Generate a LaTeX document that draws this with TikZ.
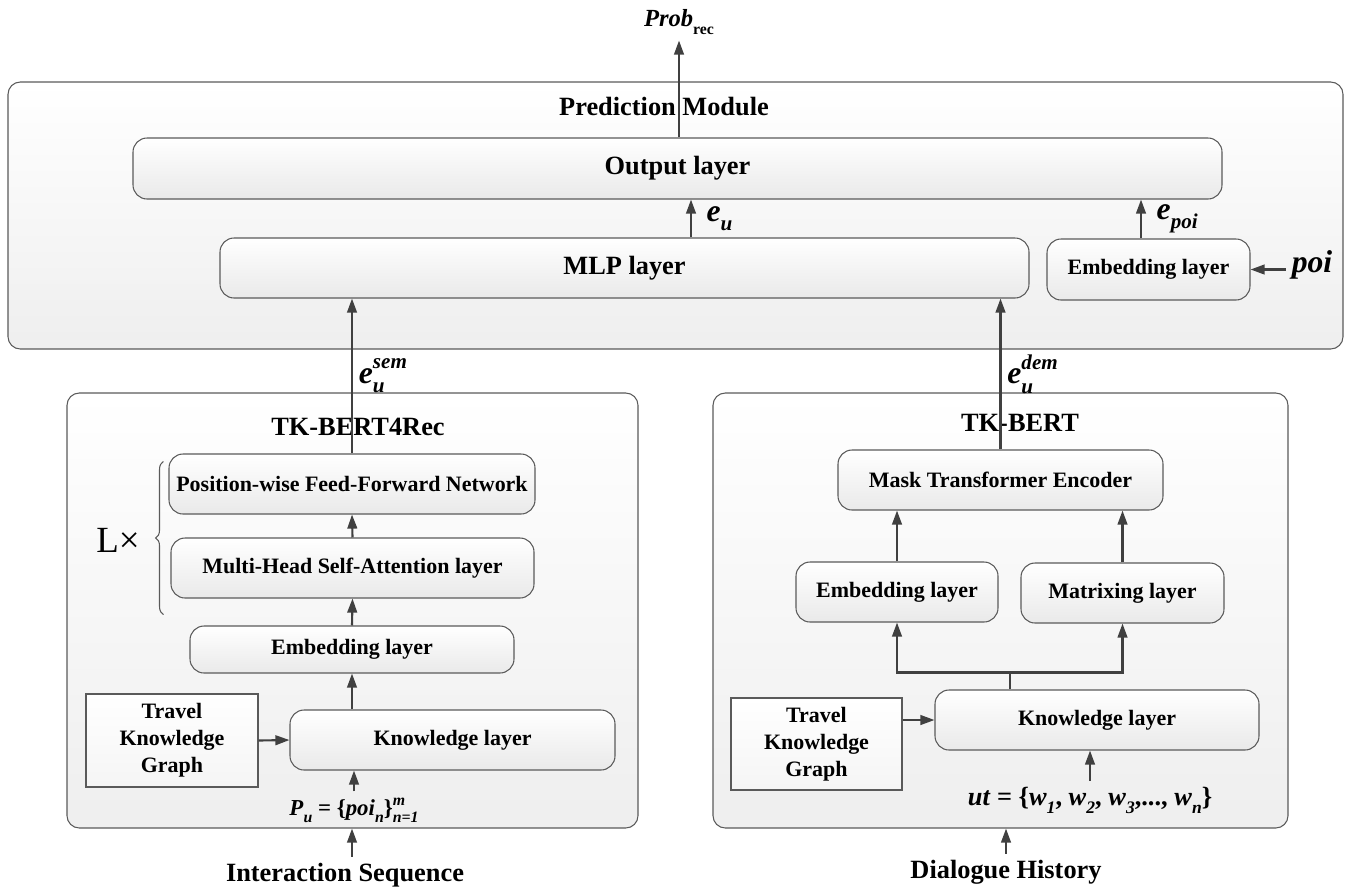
\documentclass[tikz,border=0pt]{standalone}
\usepackage{amsmath}
\usepackage{fontspec}
\setmainfont{Liberation Serif}
\usetikzlibrary{arrows.meta,decorations.pathreplacing}
\definecolor{boxline}{HTML}{5A5A5A}
\definecolor{arrowgray}{HTML}{404040}
\newcommand{\bi}[1]{\textbf{\textit{#1}}}
% base with raised and lowered index, #1 = index size in pt
\newcommand{\idx}[4]{#2\rlap{\raisebox{0.45em}{\fontsize{#1}{#1}\selectfont#3}}\raisebox{-0.3em}{\fontsize{#1}{#1}\selectfont#4}}

\begin{document}
\begin{tikzpicture}[
    module/.style={draw=boxline, rounded corners=7pt, top color=white, bottom color=gray!13, line width=0.6pt},
    layer/.style={draw=boxline, rounded corners=8pt, top color=white, bottom color=gray!17, line width=0.6pt, inner sep=0pt, font=\fontsize{12.5}{15}\selectfont\bfseries},
    kgbox/.style={draw=boxline, top color=white, bottom color=gray!8, line width=0.6pt, align=center, font=\fontsize{12.5}{15.3}\selectfont\bfseries},
    bigtext/.style={font=\fontsize{15}{18}\selectfont\bfseries},
    vectext/.style={font=\fontsize{18}{22}\selectfont},
    link/.style={draw=arrowgray, line width=1.2pt},
    arr/.style={link, -{Triangle[length=8pt,width=5.5pt]}},
    ]
    \useasboundingbox (0,0) rectangle (26.94,-17.80);

    % prediction module
    \node (pred) [module, minimum width=26.70cm, minimum height=5.34cm] at (13.51,-4.31) {};
    \node (predtitle) [bigtext] at (13.28,-2.14) {Prediction Module};
    \node (output) [layer, bigtext, minimum width=21.78cm, minimum height=1.22cm] at (13.55,-3.37) {Output layer};
    \node (mlp) [layer, bigtext, minimum width=16.18cm, minimum height=1.20cm] at (12.49,-5.36) {MLP layer};
    \node (embpoi) [layer, minimum width=4.06cm, minimum height=1.22cm] at (22.97,-5.39) {Embedding layer};
    \node (poi) [vectext] at (26.24,-5.30) {\bi{poi}};
    \node (prob) [font=\fontsize{14}{17}\selectfont] at (13.58,-0.44) {\idx{9}{\bi{Prob}}{}{\textbf{rec}}};

    % TK-BERT4Rec
    \node (rec) [module, minimum width=11.42cm, minimum height=8.70cm] at (7.05,-12.21) {};
    \node (rectitle) [bigtext] at (7.16,-8.54) {TK-BERT4Rec};
    \node (ffn) [layer, minimum width=7.32cm, minimum height=1.20cm] at (7.04,-9.68) {Position-wise Feed-Forward Network};
    \node (mhsa) [layer, minimum width=7.26cm, minimum height=1.20cm] at (7.05,-11.36) {Multi-Head Self-Attention layer};
    \node (embl) [layer, minimum width=6.48cm, minimum height=0.94cm] at (7.04,-12.99) {Embedding layer};
    \node (knowl) [layer, minimum width=6.50cm, minimum height=1.20cm] at (9.05,-14.80) {Knowledge layer};
    \node (kgl) [kgbox, minimum width=3.44cm, minimum height=1.86cm] at (3.44,-14.81) {Travel\\Knowledge\\Graph};
    \node (pu) [font=\fontsize{13}{16}\selectfont\bfseries] at (7.08,-16.20) {\idx{9}{\bi{P}}{}{\bi{u}} = \{\idx{9}{\bi{poi}}{}{\bi{n}}\}\idx{9}{}{\bi{m}}{\bi{n=1}}};
    \node (iseq) [bigtext] at (6.90,-17.50) {Interaction Sequence};
    \node (lx) [font=\fontsize{21}{25}\selectfont] at (2.36,-10.80) {L×};

    % TK-BERT
    \node (tkb) [module, minimum width=11.50cm, minimum height=8.70cm] at (20.01,-12.21) {};
    \node (tkbtitle) [bigtext] at (20.40,-8.46) {TK-BERT};
    \node (mte) [layer, minimum width=6.50cm, minimum height=1.20cm] at (20.01,-9.60) {Mask Transformer Encoder};
    \node (embr) [layer, minimum width=4.04cm, minimum height=1.20cm] at (17.94,-11.84) {Embedding layer};
    \node (matx) [layer, minimum width=4.06cm, minimum height=1.20cm] at (22.45,-11.86) {Matrixing layer};
    \node (knowr) [layer, minimum width=6.48cm, minimum height=1.20cm] at (21.94,-14.40) {Knowledge layer};
    \node (kgr) [kgbox, minimum width=3.42cm, minimum height=1.84cm] at (16.33,-14.88) {Travel\\Knowledge\\Graph};
    \node (ut) [font=\fontsize{15}{18}\selectfont\bfseries] at (21.80,-16.00) {\bi{ut} = \{\idx{10}{\bi{w}}{}{\bi{1}}, \idx{10}{\bi{w}}{}{\bi{2}}, \idx{10}{\bi{w}}{}{\bi{3}},..., \idx{10}{\bi{w}}{}{\bi{n}}\}};
    \node (dhist) [bigtext] at (20.12,-17.44) {Dialogue History};

    % top part
    \draw[arr] (output.north -| prob.south) -- (prob.south);
    \draw[arr] ([xshift=1.33cm]mlp.north) -- ([xshift=1.33cm]mlp.north |- output.south)
        node[midway, right=5pt, vectext] {\idx{12}{\bi{e}}{}{\bi{u}}};
    \draw[arr] ([xshift=-0.15cm]embpoi.north) -- ([xshift=-0.15cm]embpoi.north |- output.south)
        node[midway, right=5pt, vectext] {\idx{12}{\bi{e}}{}{\bi{poi}}};
    \draw[arr] (poi.west |- embpoi) -- (embpoi.east);
    \draw[arr] (ffn.north) -- (ffn.north |- mlp.south)
        node[midway, right, vectext] {\idx{12}{\bi{e}}{\bi{sem}}{\bi{u}}};
    \draw[arr] (mte.north) -- (mte.north |- mlp.south)
        node[midway, right, vectext] {\idx{12}{\bi{e}}{\bi{dem}}{\bi{u}}};

    % left part
    \draw[boxline, line width=0.6pt, decorate, decoration={brace, amplitude=4.5pt}]
        ([xshift=-0.14cm, yshift=-0.32cm]mhsa.south west) -- ([xshift=-0.10cm, yshift=-0.16cm]ffn.north west);
    \draw[arr] (mhsa.north) -- (ffn.south);
    \draw[arr] (embl.north) -- (mhsa.south);
    \draw[arr] (embl.south |- knowl.north) -- (embl.south);
    \draw[arr] (kgl.east) -- (knowl.west);
    \draw[arr] (pu.north) -- (pu.north |- knowl.south);
    \draw[arr] (iseq.north -| ffn.north) -- (ffn.north |- rec.south);

    % right part
    \draw[arr] (embr.north) -- (embr.north |- mte.south);
    \draw[arr] (matx.north) -- (matx.north |- mte.south);
    \draw[link] ([xshift=-1.74cm]knowr.north) -- ++(0,0.34) coordinate (fork);
    \draw[arr] (fork) -| (embr.south);
    \draw[arr] (fork) -| (matx.south);
    \draw[arr] (kgr.east |- knowr.west) -- (knowr.west);
    \draw[arr] (ut.north) -- (ut.north |- knowr.south);
    \draw[arr] (dhist.north) -- (dhist.north |- tkb.south);
\end{tikzpicture}
\end{document}
